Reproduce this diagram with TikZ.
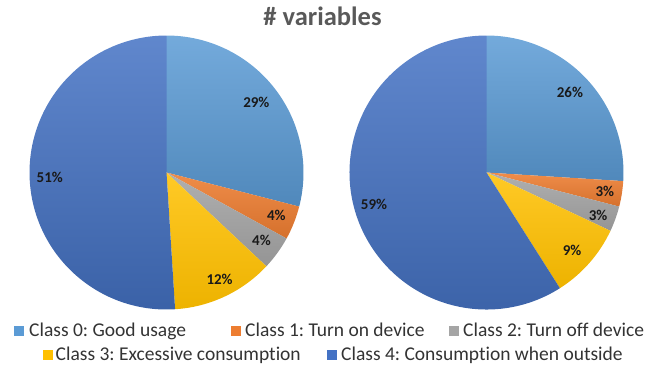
\documentclass[tikz,border=0pt]{standalone}
\usepackage{fontspec}
\setmainfont{Carlito}[Ligatures=NoCommon]
\frenchspacing
\usetikzlibrary{positioning}
\definecolor{czero}{HTML}{5B9BD5}
\definecolor{cone}{HTML}{ED7D31}
\definecolor{ctwo}{HTML}{A5A5A5}
\definecolor{cthree}{HTML}{FFC000}
\definecolor{cfour}{HTML}{4472C4}
\tikzset{
  clszero/.style={top color=czero!85!white, bottom color=czero!88!black},
  clsone/.style={top color=cone!88!white, bottom color=cone!90!black},
  clstwo/.style={top color=ctwo!88!white, bottom color=ctwo!90!black},
  clsthree/.style={top color=cthree!85!white, bottom color=cthree!93!black},
  clsfour/.style={top color=cfour!85!white, bottom color=cfour!85!black},
  pct/.style={font=\fontsize{15}{17}\selectfont\bfseries, text=black!90, inner sep=0pt},
  legtext/.style={font=\fontsize{19.5}{22}\selectfont, text=black!80, inner sep=0pt, anchor=base west},
  legmark/.style={minimum size=10pt, inner sep=0pt, anchor=south west},
  charttitle/.style={font=\fontsize{26.5}{30}\selectfont\bfseries, text=black!65, inner sep=0pt, anchor=base}
}
\begin{document}
\begin{tikzpicture}[x=1pt,y=1pt]
\useasboundingbox (0,0) rectangle (656,-365);
\node[charttitle] (title) at (322.5,-25) {\# variables};
\coordinate (lc) at (166.5,-172.5);
\coordinate (rc) at (486.5,-172.5);
\path[clszero] (lc) -- ++(90:137) arc[start angle=90, end angle=-14.4, radius=137] -- cycle;
\path[clsone] (lc) -- ++(-14.4:137) arc[start angle=-14.4, end angle=-28.8, radius=137] -- cycle;
\path[clstwo] (lc) -- ++(-28.8:137) arc[start angle=-28.8, end angle=-43.2, radius=137] -- cycle;
\path[clsthree] (lc) -- ++(-43.2:137) arc[start angle=-43.2, end angle=-86.4, radius=137] -- cycle;
\path[clsfour] (lc) -- ++(-86.4:137) arc[start angle=-86.4, end angle=-270, radius=137] -- cycle;
\path[clszero] (rc) -- ++(90:137) arc[start angle=90, end angle=-3.6, radius=137] -- cycle;
\path[clsone] (rc) -- ++(-3.6:137) arc[start angle=-3.6, end angle=-14.4, radius=137] -- cycle;
\path[clstwo] (rc) -- ++(-14.4:137) arc[start angle=-14.4, end angle=-25.2, radius=137] -- cycle;
\path[clsthree] (rc) -- ++(-25.2:137) arc[start angle=-25.2, end angle=-57.6, radius=137] -- cycle;
\path[clsfour] (rc) -- ++(-57.6:137) arc[start angle=-57.6, end angle=-270, radius=137] -- cycle;
\node[pct] (lzero) at ([shift={(38:114)}]lc) {29\%};
\node[pct] (lone) at ([shift={(-21.5:118)}]lc) {4\%};
\node[pct] (ltwo) at ([shift={(-35.4:116.5)}]lc) {4\%};
\node[pct] (lthree) at ([shift={(-63.5:119)}]lc) {12\%};
\node[pct] (lfour) at ([shift={(-177.5:116.8)}]lc) {51\%};
\node[pct] (rzero) at ([shift={(44:116)}]rc) {26\%};
\node[pct] (rone) at ([shift={(-9.1:119.8)}]rc) {3\%};
\node[pct] (rtwo) at ([shift={(-20.8:119.4)}]rc) {3\%};
\node[pct] (rthree) at ([shift={(-42.5:116)}]rc) {9\%};
\node[pct] (rfour) at ([shift={(-164:117)}]rc) {59\%};
\node[legmark, fill=czero] (mzero) at (14,-336) {};
\node[legtext] (tzero) at (29,-336) {Class 0: Good usage};
\node[legmark, fill=cone] (mone) at (230.5,-336) {};
\node[legtext] (tone) at (245,-336) {Class 1: Turn on device};
\node[legmark, fill=ctwo] (mtwo) at (449,-336) {};
\node[legtext] (ttwo) at (463,-336) {Class 2: Turn off device};
\node[legmark, fill=cthree] (mthree) at (43,-360) {};
\node[legtext] (tthree) at (55.5,-360) {Class 3: Excessive consumption};
\node[legmark, fill=cfour] (mfour) at (327,-360) {};
\node[legtext] (tfour) at (341,-360) {Class 4: Consumption when outside};
\end{tikzpicture}
\end{document}
